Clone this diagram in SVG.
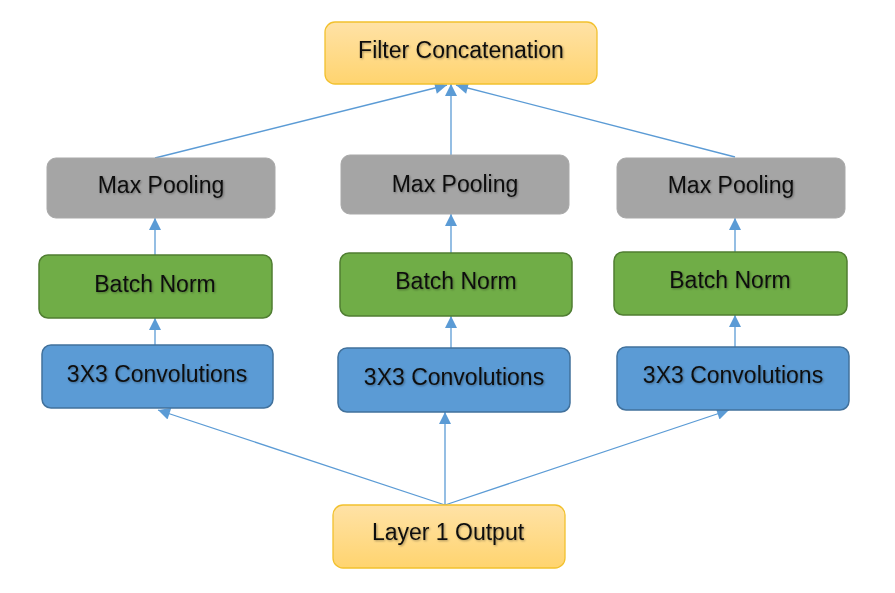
<svg xmlns="http://www.w3.org/2000/svg" width="895" height="593" viewBox="0 0 895 593">
<defs>
<linearGradient id="og" x1="0" y1="0" x2="0" y2="1">
<stop offset="0" stop-color="#FFE2A6"/>
<stop offset="1" stop-color="#FFD46F"/>
</linearGradient>
<marker id="ah" viewBox="0 0 10 10" refX="10" refY="5" markerWidth="13" markerHeight="12" markerUnits="userSpaceOnUse" orient="auto">
<path d="M0,0 L10,5 L0,10 Z" fill="#5B9BD5"/>
</marker>
<filter id="ts" x="-10%" y="-30%" width="120%" height="160%">
<feDropShadow dx="1" dy="1" stdDeviation="0.8" flood-color="#000" flood-opacity="0.35"/>
</filter>
</defs>
<style>
text{font-family:"Liberation Sans",Arial,sans-serif;font-size:23px;fill:#111;text-anchor:middle;filter:url(#ts)}
.orange{fill:url(#og);stroke:#F2C12E;stroke-width:1.3}
.gray{fill:#A5A5A5;stroke:#A9A9A9;stroke-width:1}
.green{fill:#70AD47;stroke:#507E32;stroke-width:1.5}
.blue{fill:#5B9BD5;stroke:#41719C;stroke-width:1.5}
.conn line{stroke:#5B9BD5;stroke-width:1.3;marker-end:url(#ah)}
</style>
<rect width="895" height="593" fill="#fff"/>
<g class="conn" id="connectors">
<line x1="155" y1="158" x2="447" y2="85"/>
<line x1="451" y1="155" x2="451" y2="84"/>
<line x1="735" y1="157" x2="456" y2="85"/>
<line x1="155" y1="255" x2="155" y2="218"/>
<line x1="155" y1="345" x2="155" y2="318"/>
<line x1="451" y1="253" x2="451" y2="214"/>
<line x1="451" y1="348" x2="451" y2="316"/>
<line x1="735" y1="252" x2="735" y2="218"/>
<line x1="735" y1="347" x2="735" y2="315"/>
<line x1="445" y1="505" x2="158" y2="410"/>
<line x1="445" y1="505" x2="445" y2="412"/>
<line x1="445" y1="505" x2="729" y2="410"/>
</g>
<g id="filter-concat">
<rect class="orange" x="325" y="22" width="272" height="62" rx="10"/>
<text x="461" y="58">Filter Concatenation</text>
</g>
<g id="maxpool-left">
<rect class="gray" x="47" y="158" width="228" height="60" rx="9"/>
<text x="161" y="193">Max Pooling</text>
</g>
<g id="maxpool-mid">
<rect class="gray" x="341" y="155" width="228" height="59" rx="9"/>
<text x="455" y="192">Max Pooling</text>
</g>
<g id="maxpool-right">
<rect class="gray" x="617" y="158" width="228" height="60" rx="9"/>
<text x="731" y="193">Max Pooling</text>
</g>
<g id="batchnorm-left">
<rect class="green" x="39" y="255" width="233" height="63" rx="9"/>
<text x="155" y="292">Batch Norm</text>
</g>
<g id="batchnorm-mid">
<rect class="green" x="340" y="253" width="232" height="63" rx="9"/>
<text x="456" y="289">Batch Norm</text>
</g>
<g id="batchnorm-right">
<rect class="green" x="614" y="252" width="233" height="63" rx="9"/>
<text x="730" y="288">Batch Norm</text>
</g>
<g id="conv-left">
<rect class="blue" x="42" y="345" width="231" height="63" rx="9"/>
<text x="157" y="382">3X3 Convolutions</text>
</g>
<g id="conv-mid">
<rect class="blue" x="338" y="348" width="232" height="64" rx="9"/>
<text x="454" y="385">3X3 Convolutions</text>
</g>
<g id="conv-right">
<rect class="blue" x="617" y="347" width="232" height="63" rx="9"/>
<text x="733" y="383">3X3 Convolutions</text>
</g>
<g id="layer1-output">
<rect class="orange" x="333" y="505" width="232" height="63" rx="10"/>
<text x="448" y="540">Layer 1 Output</text>
</g>
</svg>
